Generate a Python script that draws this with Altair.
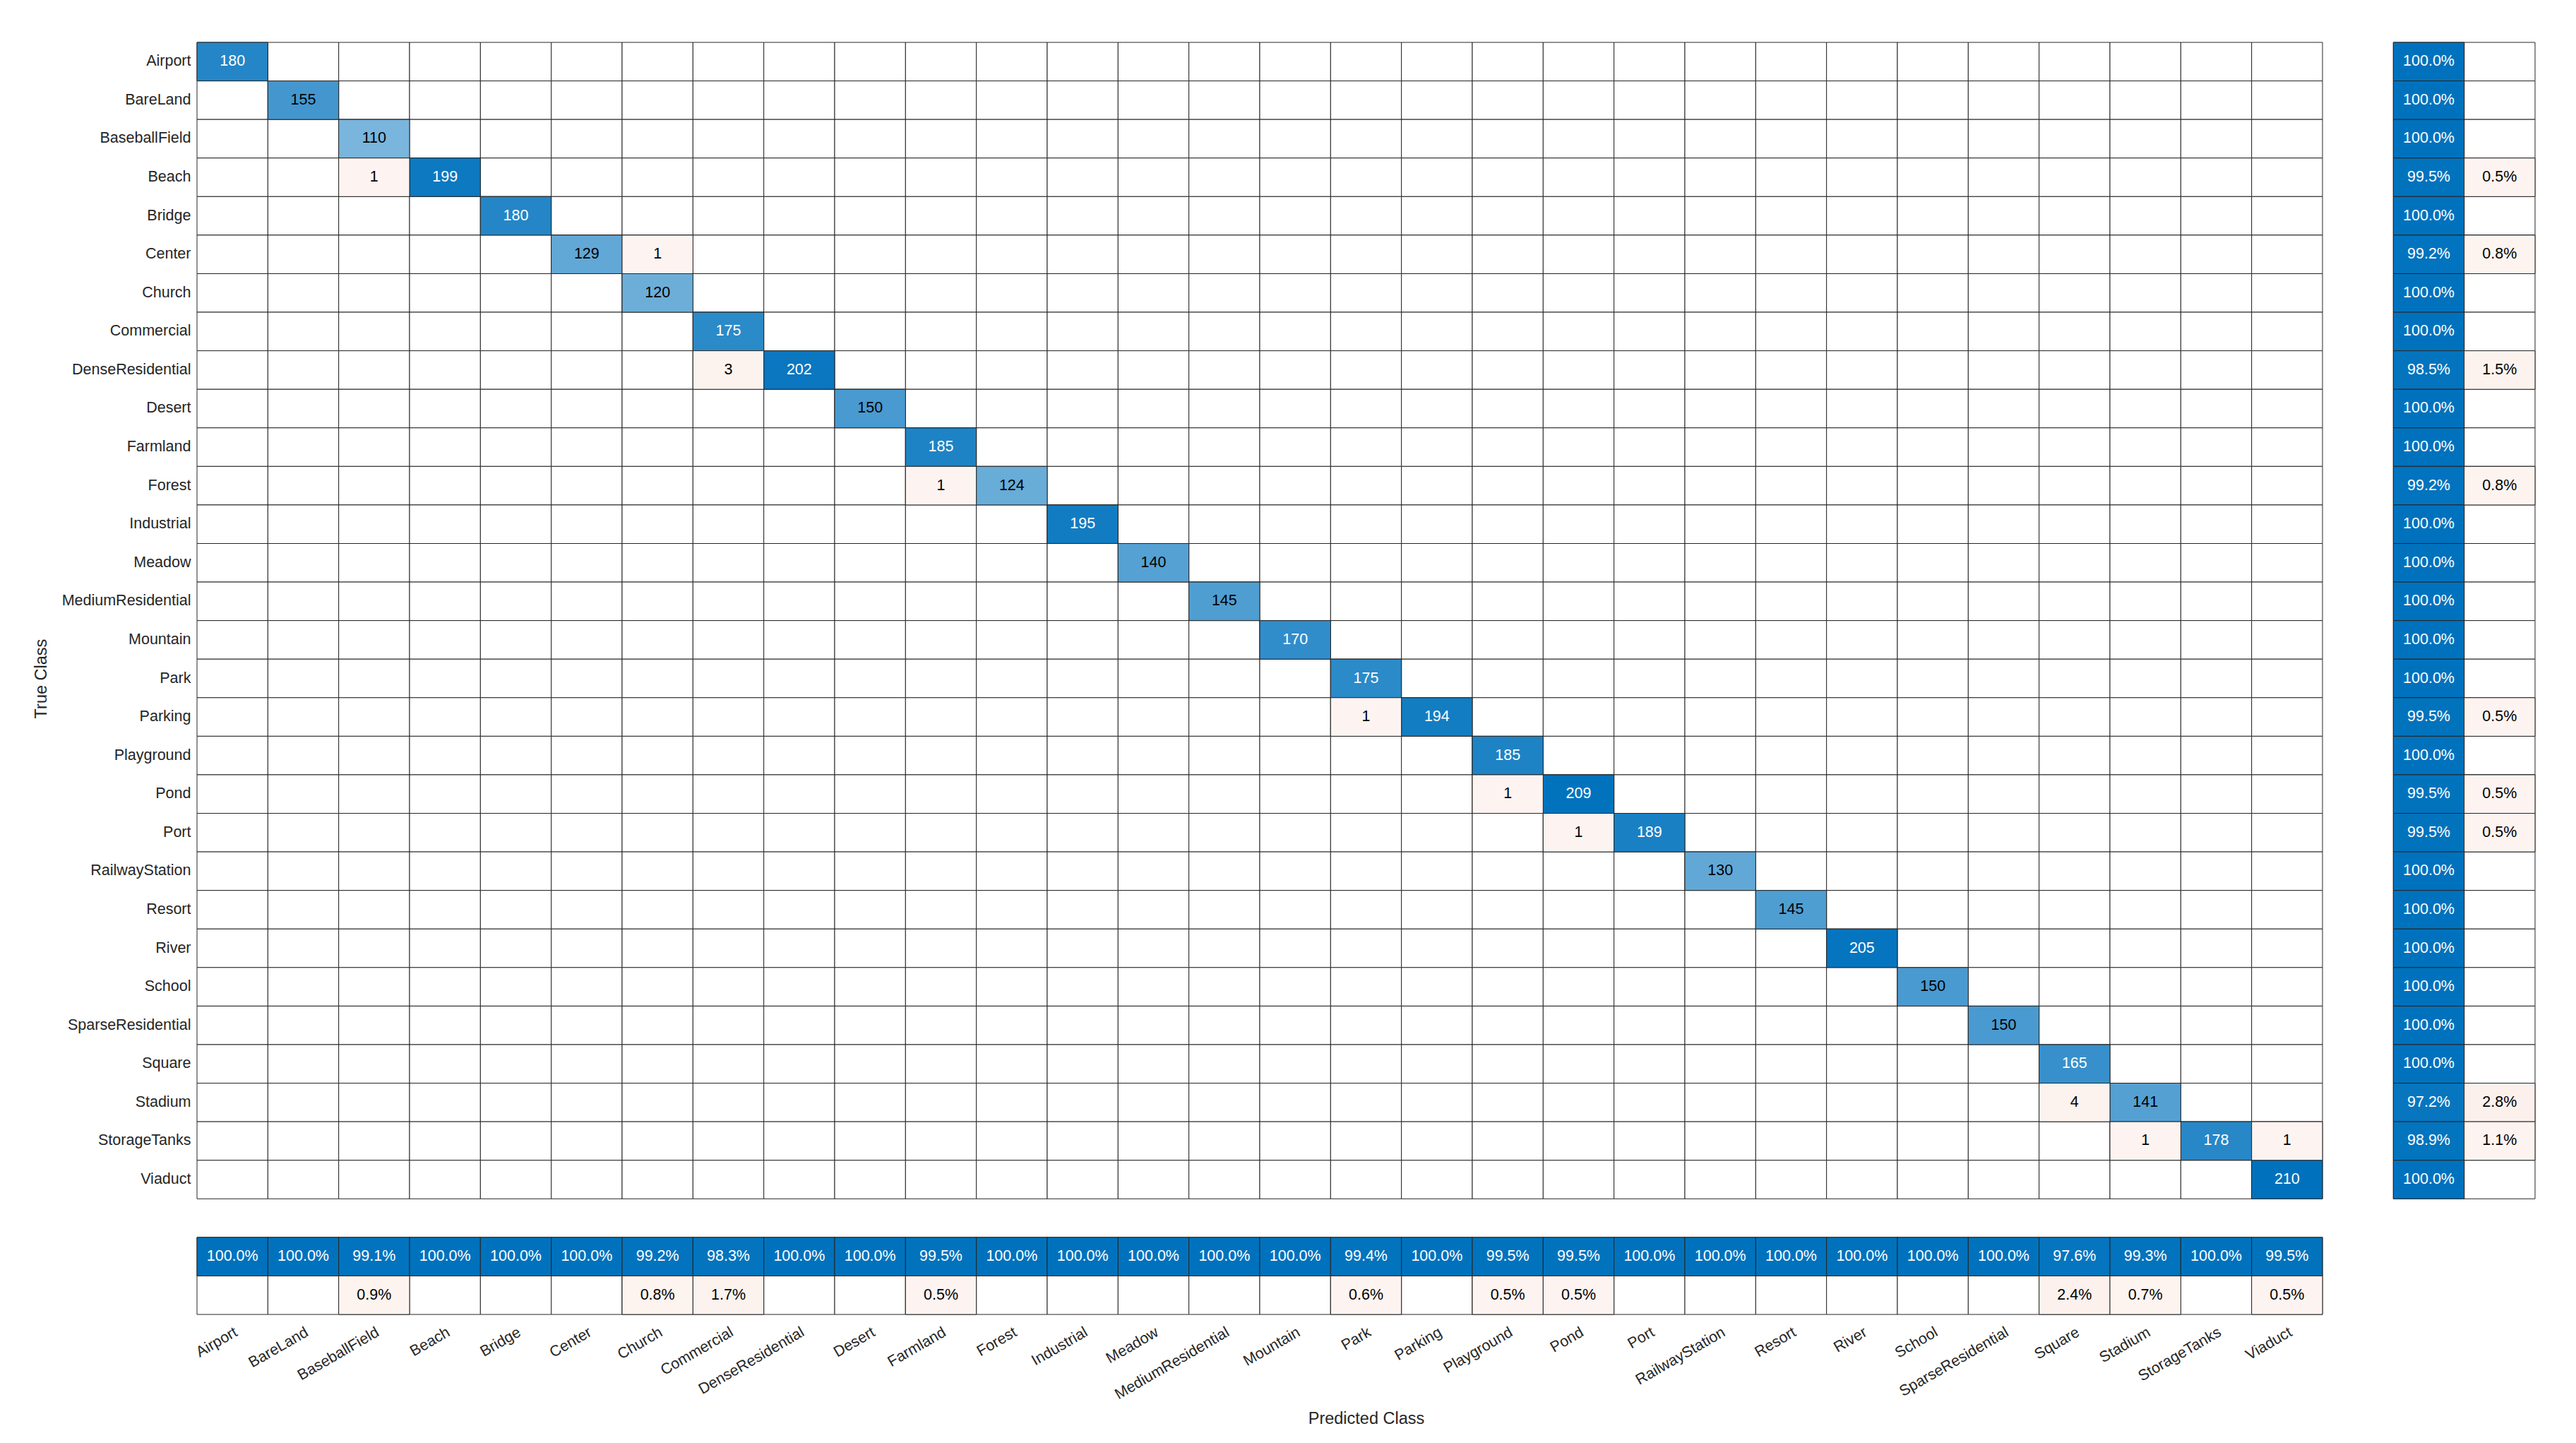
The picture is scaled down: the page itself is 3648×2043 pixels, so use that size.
import altair as alt
import pandas as pd

classes = ["Airport", "BareLand", "BaseballField", "Beach", "Bridge", "Center", "Church",
           "Commercial", "DenseResidential", "Desert", "Farmland", "Forest", "Industrial",
           "Meadow", "MediumResidential", "Mountain", "Park", "Parking", "Playground", "Pond",
           "Port", "RailwayStation", "Resort", "River", "School", "SparseResidential",
           "Square", "Stadium", "StorageTanks", "Viaduct"]

diag_counts = [180, 155, 110, 199, 180, 129, 120, 175, 202, 150, 185, 124, 195, 140, 145,
               170, 175, 194, 185, 209, 189, 130, 145, 205, 150, 150, 165, 141, 178, 210]

off_true = ["Beach", "Center", "DenseResidential", "Forest", "Parking", "Pond", "Port",
            "Stadium", "StorageTanks", "StorageTanks"]
off_pred = ["BaseballField", "Church", "Commercial", "Farmland", "Park", "Playground", "Pond",
            "Square", "Stadium", "Viaduct"]
off_count = [1, 1, 3, 1, 1, 1, 1, 4, 1, 1]

row_correct_pct = [100.0, 100.0, 100.0, 99.5, 100.0, 99.2, 100.0, 100.0, 98.5, 100.0,
                   100.0, 99.2, 100.0, 100.0, 100.0, 100.0, 100.0, 99.5, 100.0, 99.5,
                   99.5, 100.0, 100.0, 100.0, 100.0, 100.0, 100.0, 97.2, 98.9, 100.0]
row_wrong_pct = [0, 0, 0, 0.5, 0, 0.8, 0, 0, 1.5, 0, 0, 0.8, 0, 0, 0, 0, 0, 0.5, 0, 0.5,
                 0.5, 0, 0, 0, 0, 0, 0, 2.8, 1.1, 0]
col_correct_pct = [100.0, 100.0, 99.1, 100.0, 100.0, 100.0, 99.2, 98.3, 100.0, 100.0,
                   99.5, 100.0, 100.0, 100.0, 100.0, 100.0, 99.4, 100.0, 99.5, 99.5,
                   100.0, 100.0, 100.0, 100.0, 100.0, 100.0, 97.6, 99.3, 100.0, 99.5]
col_wrong_pct = [0, 0, 0.9, 0, 0, 0, 0.8, 1.7, 0, 0, 0.5, 0, 0, 0, 0, 0, 0.6, 0, 0.5, 0.5,
                 0, 0, 0, 0, 0, 0, 2.4, 0.7, 0, 0.5]

GAP_X, TPR, FNR = "·gx", "·tpr", "·fnr"
GAP_Y, PPV, FDR = "·gy", "·ppv", "·fdr"
x_domain = classes + [GAP_X, TPR, FNR]
y_domain = classes + [GAP_Y, PPV, FDR]

vmax = max(diag_counts)

# grid of all drawn cells
grid_rows = []
for r in classes:
    for c in classes + [TPR, FNR]:
        grid_rows.append({"row": r, "col": c})
for r in [PPV, FDR]:
    for c in classes:
        grid_rows.append({"row": r, "col": c})
grid_df = pd.DataFrame(grid_rows)

cells = []
for c, v in zip(classes, diag_counts):
    cells.append({"row": c, "col": c, "n": v / vmax, "label": str(v), "kind": "blue"})
for t, p, v in zip(off_true, off_pred, off_count):
    cells.append({"row": t, "col": p, "n": v / vmax, "label": str(v), "kind": "pink"})
for c, a, b in zip(classes, row_correct_pct, row_wrong_pct):
    cells.append({"row": c, "col": TPR, "n": a / 100, "label": f"{a:.1f}%", "kind": "blue"})
    if b > 0:
        cells.append({"row": c, "col": FNR, "n": b / 100, "label": f"{b:.1f}%", "kind": "pink"})
for c, a, b in zip(classes, col_correct_pct, col_wrong_pct):
    cells.append({"row": PPV, "col": c, "n": a / 100, "label": f"{a:.1f}%", "kind": "blue"})
    if b > 0:
        cells.append({"row": FDR, "col": c, "n": b / 100, "label": f"{b:.1f}%", "kind": "pink"})
cells_df = pd.DataFrame(cells)

FONT = "Liberation Sans"
TXT = "#262626"

x_enc = alt.X("col:N", scale=alt.Scale(domain=x_domain, paddingInner=0, paddingOuter=0),
              axis=alt.Axis(values=classes, title="Predicted Class", labelAngle=330,
                            labelAlign="right", labelBaseline="top", labelPadding=14,
                            titleY=135, titleBaseline="top"))
y_enc = alt.Y("row:N", scale=alt.Scale(domain=y_domain, paddingInner=0, paddingOuter=0),
              axis=alt.Axis(values=classes, title="True Class", labelPadding=9,
                            titleX=-221, titleBaseline="middle"))

grid = alt.Chart(grid_df).mark_rect(fill="white", stroke=TXT, strokeWidth=1).encode(
    x=x_enc, y=y_enc)

blue = alt.Chart(cells_df).transform_filter(alt.datum.kind == "blue").mark_rect(
    stroke=TXT, strokeWidth=1).encode(
    x=x_enc, y=y_enc,
    fill=alt.Fill("n:Q", scale=alt.Scale(domain=[0, 1], range=["#ffffff", "#0072BD"],
                                         interpolate="rgb"), legend=None))

pink = alt.Chart(cells_df).transform_filter(alt.datum.kind == "pink").mark_rect(
    stroke=TXT, strokeWidth=1).encode(
    x=x_enc, y=y_enc,
    fill=alt.Fill("n:Q", scale=alt.Scale(domain=[0, 1], range=["#FDF5F2", "#D95319"],
                                         interpolate="rgb"), legend=None))

text = alt.Chart(cells_df).mark_text(font=FONT, fontSize=21.5, align="center",
                                     baseline="middle").encode(
    x=x_enc, y=y_enc, text="label:N",
    color=alt.condition("datum.n >= 0.75", alt.value("white"), alt.value("black")))

chart = alt.layer(grid, blue, pink, text).resolve_scale(fill="independent").properties(
    width=3311, height=1801,
    autosize=alt.AutoSizeParams(type="none"),
    padding={"left": 271, "top": 52, "right": 28, "bottom": 160},
).configure_view(stroke=None).configure_axis(
    domain=False, ticks=False, grid=False, labelLimit=0,
    labelFont=FONT, labelFontSize=21.5, labelColor=TXT,
    titleFont=FONT, titleFontSize=23.5, titleColor=TXT, titleFontWeight="normal",
)

chart.save("out.html", embed_options={"renderer": "svg", "actions": False})
